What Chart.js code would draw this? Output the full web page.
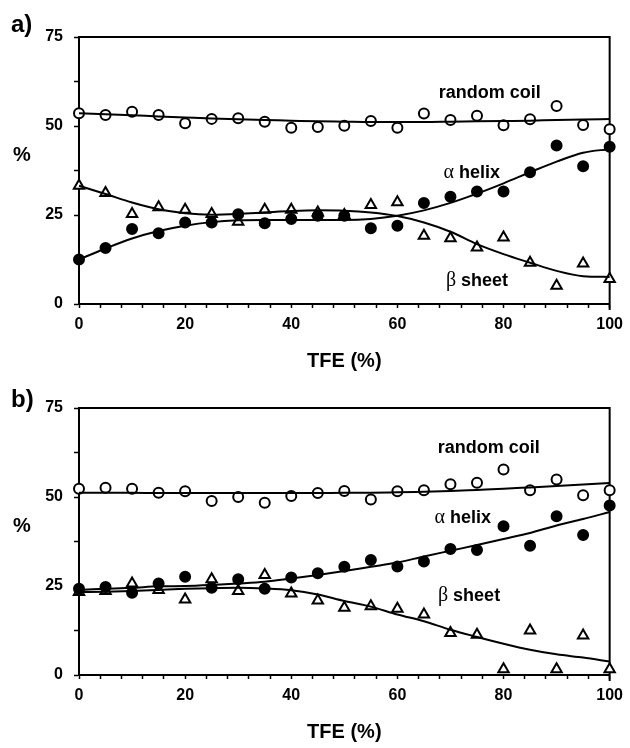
<!DOCTYPE html>
<html lang="en">

<head>
  <meta charset="UTF-8">
  <title>Secondary structure vs TFE</title>
  <script src="https://cdn.jsdelivr.net/npm/chart.js"></script>
  <style>
    body { margin: 0; background: #fff; }
    canvas { display: block; }
  </style>
</head>

<body>
  <canvas id="panelA" width="630" height="371"></canvas>
  <canvas id="panelB" width="630" height="377"></canvas>

  <script>
    // TFE concentration (%)
    const tfe = [0, 5, 10, 15, 20, 25, 30, 35, 40, 45, 50, 55, 60, 65, 70, 75, 80, 85, 90, 95, 100];

    // panel a) measured points
    const coilA  = [53.6, 53.1, 54.0, 53.1, 50.8, 52.0, 52.2, 51.2, 49.5, 49.7, 50.1, 51.4, 49.5, 53.5, 51.7, 52.9, 50.2, 51.9, 55.6, 50.3, 49.1];
    const helixA = [12.5, 15.7, 21.1, 19.9, 22.9, 22.9, 25.2, 22.7, 23.9, 24.8, 24.8, 21.3, 22.0, 28.4, 30.1, 31.6, 31.6, 37.0, 44.5, 38.7, 44.2];
    const sheetA = [33.2, 31.2, 25.3, 27.2, 26.5, 25.3, 23.1, 26.5, 26.5, 25.7, 25.0, 27.8, 28.6, 19.2, 18.5, 15.9, 18.7, 11.6, 5.1, 11.4, 7.0];
    // panel a) fitted curves
    const coilFitA  = [53.6, 53.3, 53.0, 52.7, 52.4, 52.1, 51.9, 51.7, 51.5, 51.3, 51.2, 51.1, 51.1, 51.1, 51.2, 51.3, 51.4, 51.5, 51.7, 51.8, 52.0];
    const helixFitA = [12.5, 15.6, 18.4, 20.5, 22.0, 23.0, 23.5, 23.6, 23.6, 23.6, 23.6, 23.9, 24.8, 26.3, 28.4, 31.0, 33.9, 37.0, 40.0, 42.5, 43.5];
    const sheetFitA = [33.2, 30.9, 28.5, 26.6, 25.5, 25.1, 25.3, 25.7, 26.1, 26.3, 26.2, 25.7, 24.7, 22.9, 20.3, 16.8, 14.0, 11.6, 9.3, 7.8, 7.6];

    // panel b) measured points
    const coilB  = [52.3, 52.6, 52.3, 51.2, 51.6, 48.9, 50.0, 48.4, 50.3, 51.1, 51.7, 49.3, 51.6, 51.9, 53.6, 54.0, 57.7, 51.9, 54.9, 50.5, 51.9];
    const helixB = [24.2, 24.7, 23.1, 25.7, 27.6, 24.5, 26.9, 24.2, 27.4, 28.6, 30.4, 32.3, 30.5, 31.9, 35.4, 35.1, 41.8, 36.3, 44.6, 39.3, 47.6];
    const sheetB = [23.3, 23.6, 25.7, 23.9, 21.2, 26.9, 23.6, 28.1, 22.9, 20.9, 18.9, 19.3, 18.6, 17.0, 11.8, 11.3, 1.6, 12.5, 1.6, 11.1, 1.6];
    // panel b) fitted curves
    const coilFitB  = [51.2, 51.2, 51.2, 51.1, 51.1, 51.1, 51.1, 51.1, 51.1, 51.1, 51.2, 51.2, 51.3, 51.5, 51.7, 52.0, 52.3, 52.7, 53.1, 53.5, 53.9];
    const helixFitB = [23.9, 24.2, 24.5, 24.9, 25.0, 25.3, 25.7, 26.2, 27.1, 28.1, 29.2, 30.4, 31.6, 33.3, 34.9, 36.5, 38.2, 39.9, 42.0, 43.8, 45.8];
    const sheetFitB = [23.3, 23.4, 23.6, 23.9, 24.2, 24.4, 24.5, 24.3, 23.8, 22.6, 20.8, 19.2, 17.0, 15.1, 12.7, 10.7, 8.8, 7.1, 5.8, 4.9, 3.8];

    const SANS = '"Liberation Sans", Arial, sans-serif';
    const SERIF = '"Liberation Serif", "DejaVu Serif", serif';

    const pts = ys => ys.map((y, i) => ({ x: tfe[i], y: y }));

    function curve(ys) {
      return {
        type: 'line', data: pts(ys), borderColor: '#000', borderWidth: 2,
        pointRadius: 0, cubicInterpolationMode: 'monotone', fill: false, clip: false
      };
    }

    function marks(ys, style, filled) {
      return {
        type: 'scatter', data: pts(ys), pointStyle: style,
        pointRadius: style === 'triangle' ? 6 : 5,
        borderColor: '#000', borderWidth: 2,
        backgroundColor: filled ? '#000' : '#fff', clip: false
      };
    }

    // texts drawn on top of the chart: panel letter, y title, curve names
    const textPlugin = {
      id: 'texts',
      afterDraw(chart, args, opts) {
        const c = chart.ctx;
        const { x, y } = chart.scales;
        c.save();
        c.fillStyle = '#000';
        c.textBaseline = 'middle';
        c.textAlign = 'left';
        c.font = 'bold 24px ' + SANS;
        c.fillText(opts.letter, 11, opts.letterY);
        c.textAlign = 'center';
        c.font = 'bold 20px ' + SANS;
        c.fillText('%', 22, 155);

        opts.notes.forEach(n => {
          const px = x.getPixelForValue(n.x);
          const py = y.getPixelForValue(n.y);
          c.textAlign = 'left';
          c.font = '20px ' + SERIF;
          const g = n.greek || '';
          const gw = c.measureText(g).width;
          c.font = 'bold 18px ' + SANS;
          const tw = c.measureText(n.text).width;
          let sx = px - (gw + tw) / 2;
          c.font = '20px ' + SERIF;
          c.fillText(g, sx, py);
          c.font = 'bold 18px ' + SANS;
          c.fillText(n.text, sx + gw, py);
        });
        c.restore();
      }
    };

    // top and right lines of the box
    const framePlugin = {
      id: 'frame',
      beforeDatasetsDraw(chart) {
        const c = chart.ctx;
        const a = chart.chartArea;
        c.save();
        c.strokeStyle = '#000';
        c.lineWidth = 2;
        c.beginPath();
        c.moveTo(a.left, a.top);
        c.lineTo(a.right, a.top);
        c.lineTo(a.right, a.bottom + 6);
        c.stroke();
        c.restore();
      }
    };

    function makePanel(id, letter, letterY, s, notes, xAxisHeight, titlePad) {
      new Chart(document.getElementById(id), {
        data: {
          datasets: [
            curve(s.coilFit), curve(s.helixFit), curve(s.sheetFit),
            marks(s.coil, 'circle', false),
            marks(s.helix, 'circle', true),
            marks(s.sheet, 'triangle', false)
          ]
        },
        options: {
          responsive: false,
          animation: false,
          layout: { padding: { left: 0, right: 18, top: 37, bottom: 0 } },
          plugins: {
            legend: { display: false },
            tooltip: { enabled: false },
            texts: { letter: letter, letterY: letterY, notes: notes }
          },
          scales: {
            x: {
              type: 'linear', min: 0, max: 100,
              afterFit: sc => { sc.height = xAxisHeight; },
              border: { color: '#000', width: 2 },
              grid: { drawOnChartArea: false, color: '#000', tickLength: 4, tickWidth: 1.5 },
              ticks: {
                stepSize: 4, autoSkip: false, maxRotation: 0, padding: 7, color: '#000',
                font: { family: SANS, size: 16, weight: 'bold' },
                callback: v => (v % 20 === 0 ? v : '')
              },
              title: {
                display: true, text: 'TFE (%)', color: '#000',
                font: { family: SANS, size: 20, weight: 'bold', lineHeight: 1 },
                padding: { top: 0, bottom: titlePad }
              }
            },
            y: {
              min: 0, max: 75,
              afterFit: sc => { sc.width = 79; },
              border: { color: '#000', width: 2 },
              grid: { drawOnChartArea: false, color: '#000', tickLength: 5, tickWidth: 1.5 },
              ticks: {
                stepSize: 12.5, autoSkip: false, padding: 11, color: '#000',
                font: { family: SANS, size: 16, weight: 'bold' },
                callback: v => (v % 25 === 0 ? v : '')
              }
            }
          }
        },
        plugins: [framePlugin, textPlugin]
      });
    }

    makePanel('panelA', 'a)', 25, {
      coil: coilA, helix: helixA, sheet: sheetA,
      coilFit: coilFitA, helixFit: helixFitA, sheetFit: sheetFitA
    }, [
      { text: 'random coil', x: 77.4, y: 59.3 },
      { greek: 'α', text: ' helix', x: 74, y: 36.8 },
      { greek: 'β', text: ' sheet', x: 75, y: 6.5 }
    ], 67, 0);

    makePanel('panelB', 'b)', 29, {
      coil: coilB, helix: helixB, sheet: sheetB,
      coilFit: coilFitB, helixFit: helixFitB, sheetFit: sheetFitB
    }, [
      { text: 'random coil', x: 77.2, y: 63.7 },
      { greek: 'α', text: ' helix', x: 72.3, y: 44.1 },
      { greek: 'β', text: ' sheet', x: 73.5, y: 22.2 }
    ], 73, 5.5);
  </script>
</body>

</html>
